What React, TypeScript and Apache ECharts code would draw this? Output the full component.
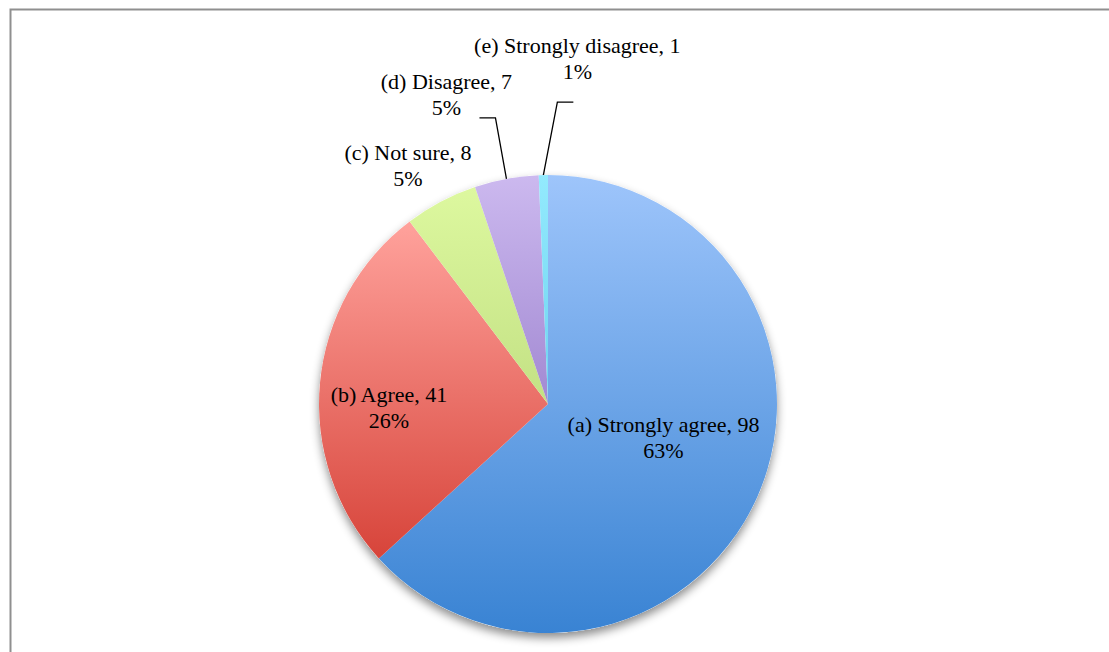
import React, { useEffect, useRef } from "react";
import * as echarts from "echarts";

const categories = [
  "(a) Strongly agree",
  "(b) Agree",
  "(c) Not sure",
  "(d) Disagree",
  "(e) Strongly disagree",
];
const values = [98, 41, 8, 7, 1];

const sliceColors: [string, string][] = [
  ["#9ec5fb", "#3983d3"],
  ["#ffa29c", "#d7443a"],
  ["#ddf89f", "#c3e184"],
  ["#ccb9ef", "#a289d2"],
  ["#93eafd", "#6fd3f0"],
];

const FONT = "'Liberation Serif', serif";

export default function App() {
  const ref = useRef<HTMLDivElement>(null);
  useEffect(() => {
    document.body.style.margin = "0";
    if (!ref.current) return;
    const chart = echarts.init(ref.current, null, { renderer: "svg" });
    const grad = (c: [string, string]) =>
      new echarts.graphic.LinearGradient(0, 0, 0, 1, [
        { offset: 0, color: c[0] },
        { offset: 1, color: c[1] },
      ]);
    const center = [548, 404];
    const radius = 229;
    chart.setOption({
      animation: false,
      backgroundColor: "#ffffff",
      graphic: [
        {
          type: "rect",
          left: 8,
          top: 7,
          shape: { x: 0, y: 0, width: 1300, height: 900 },
          style: { fill: "none", stroke: "#8f8f8f", lineWidth: 2 },
          silent: true,
          z: 0,
        },
      ],
      series: [
        {
          type: "pie",
          silent: true,
          center,
          radius,
          z: 1,
          label: { show: false },
          labelLine: { show: false },
          itemStyle: {
            color: "#ffffff",
            shadowBlur: 10,
            shadowOffsetY: 5,
            shadowColor: "rgba(0,0,0,0.45)",
          },
          data: [{ value: 1, name: "" }],
        },
        {
          type: "pie",
          center,
          radius,
          z: 2,
          startAngle: 90,
          clockwise: true,
          avoidLabelOverlap: false,
          data: categories.map((name, i) => ({
            name,
            value: values[i],
            itemStyle: { color: grad(sliceColors[i]) },
            label: { position: i < 2 ? "inside" : "outside" },
            labelLine:
              i < 2
                ? { show: false }
                : {
                    show: true,
                    lineStyle: { color: i === 2 ? "rgba(0,0,0,0)" : "#000000", width: 1.3 },
                  },
          })),
          label: {
            show: true,
            color: "#000000",
            fontFamily: FONT,
            fontSize: 22,
            lineHeight: 26,
            align: "center",
            formatter: (p: any) => `${p.name}, ${p.value}\n${Math.round(p.percent)}%`,
          },
          labelLine: { length: 20, length2: 10 },
          labelLayout: (p: any) => {
            const i = p.dataIndex;
            if (i === 0) return { dx: 8, dy: -14 };
            if (i === 1) return { dx: -42, dy: 14 };
            const pts = p.labelLinePoints;
            if (!pts) return {};
            const p0 = pts[0];
            if (i === 2) {
              return { x: p0[0] - 33, y: p0[1] - 36, align: "center", verticalAlign: "middle" };
            }
            if (i === 3) {
              const p1 = [p0[0] - 11, p0[1] - 61];
              const p2 = [p1[0] - 16, p1[1]];
              return {
                x: p2[0] - 33,
                y: p2[1] - 23,
                align: "center",
                verticalAlign: "middle",
                labelLinePoints: [p0, p1, p2],
              };
            }
            const p1 = [p0[0] + 14, p0[1] - 73];
            const p2 = [p1[0] + 16, p1[1]];
            return {
              x: p2[0] + 4,
              y: p2[1] - 44,
              align: "center",
              verticalAlign: "middle",
              labelLinePoints: [p0, p1, p2],
            };
          },
        },
      ],
    });
    return () => chart.dispose();
  }, []);
  return <div ref={ref} style={{ width: 1109, height: 652 }} />;
}
